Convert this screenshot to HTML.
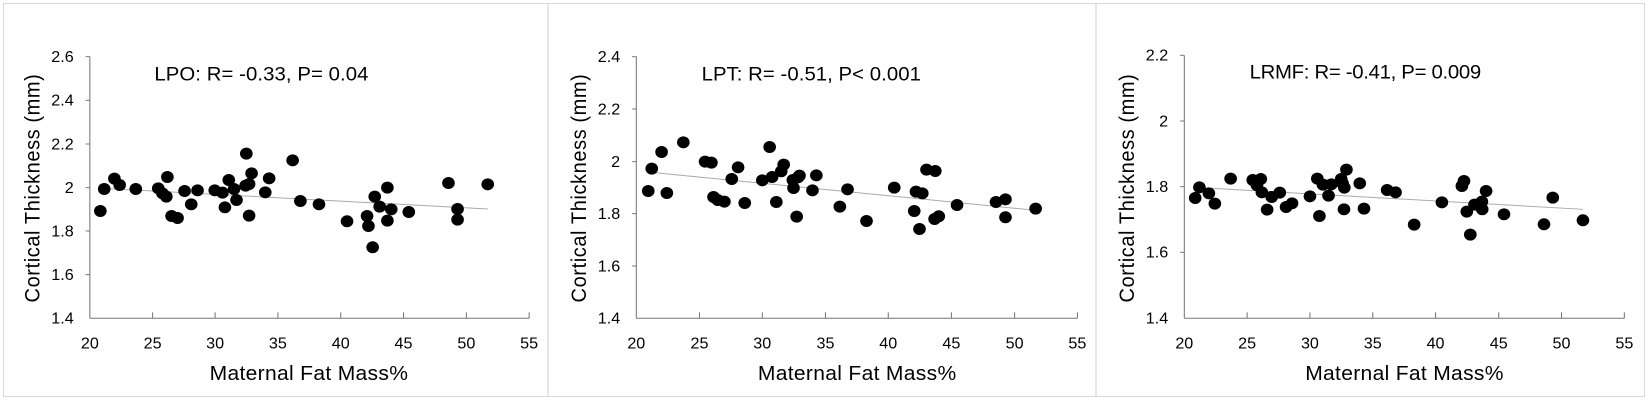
<!DOCTYPE html><html><head><style>body{margin:0;background:#fff}svg{display:block}text{font-family:"Liberation Sans",sans-serif;fill:#000}</style></head><body>
<svg width="1648" height="401" viewBox="0 0 1648 401" xmlns="http://www.w3.org/2000/svg">
<rect x="3.5" y="3.5" width="1641" height="393" fill="none" stroke="#d8d8d8"/>
<line x1="548" y1="3" x2="548" y2="397" stroke="#d0d0d0"/>
<line x1="1096" y1="3" x2="1096" y2="397" stroke="#d0d0d0"/>
<!-- Panel 1 -->
<g transform="scale(0.3509,0.3333)">
<line x1="256" y1="170" x2="256" y2="955" stroke="#777" stroke-width="3"/>
<line x1="256" y1="955" x2="1508" y2="955" stroke="#777" stroke-width="3"/>
<g stroke="#777" stroke-width="3"><line x1="244" y1="170" x2="256" y2="170"/><line x1="244" y1="301" x2="256" y2="301"/><line x1="244" y1="432" x2="256" y2="432"/><line x1="244" y1="563" x2="256" y2="563"/><line x1="244" y1="693" x2="256" y2="693"/><line x1="244" y1="824" x2="256" y2="824"/>
<line x1="435" y1="955" x2="435" y2="937"/><line x1="613" y1="955" x2="613" y2="937"/><line x1="792" y1="955" x2="792" y2="937"/><line x1="971" y1="955" x2="971" y2="937"/><line x1="1150" y1="955" x2="1150" y2="937"/><line x1="1329" y1="955" x2="1329" y2="937"/><line x1="1508" y1="955" x2="1508" y2="937"/></g>
<g font-size="46" text-anchor="end"><text x="210" y="186">2.6</text><text x="210" y="317">2.4</text><text x="210" y="448">2.2</text><text x="210" y="579">2</text><text x="210" y="709">1.8</text><text x="210" y="840">1.6</text><text x="210" y="971">1.4</text></g>
<g font-size="46" text-anchor="middle"><text x="256" y="1045">20</text><text x="435" y="1045">25</text><text x="613" y="1045">30</text><text x="792" y="1045">35</text><text x="971" y="1045">40</text><text x="1150" y="1045">45</text><text x="1329" y="1045">50</text><text x="1508" y="1045">55</text></g>
<text x="880" y="1140" font-size="60" text-anchor="middle" textLength="565">Maternal Fat Mass%</text>
<text transform="translate(112,565) rotate(-90)" font-size="60" text-anchor="middle" textLength="685">Cortical Thickness (mm)</text>
<text x="440" y="242" font-size="58" textLength="610">LPO: R= -0.33, P= 0.04</text>
<line x1="290" y1="565" x2="1390" y2="627" stroke="#aaa" stroke-width="3"/>
<g fill="#000"><circle cx="286" cy="633" r="18"/><circle cx="297" cy="567" r="18"/><circle cx="326" cy="536" r="18"/><circle cx="341" cy="555" r="18"/><circle cx="387" cy="567" r="18"/><circle cx="451" cy="565" r="18"/><circle cx="463" cy="580" r="18"/><circle cx="474" cy="590" r="18"/><circle cx="477" cy="531" r="18"/><circle cx="489" cy="648" r="18"/><circle cx="506" cy="654" r="18"/><circle cx="526" cy="573" r="18"/><circle cx="545" cy="613" r="18"/><circle cx="563" cy="571" r="18"/><circle cx="612" cy="571" r="18"/><circle cx="634" cy="578" r="18"/><circle cx="641" cy="622" r="18"/><circle cx="652" cy="540" r="18"/><circle cx="667" cy="567" r="18"/><circle cx="674" cy="600" r="18"/><circle cx="702" cy="461" r="18"/><circle cx="700" cy="557" r="18"/><circle cx="710" cy="552" r="18"/><circle cx="717" cy="520" r="18"/><circle cx="710" cy="647" r="18"/><circle cx="756" cy="577" r="18"/><circle cx="767" cy="535" r="18"/><circle cx="834" cy="481" r="18"/><circle cx="856" cy="603" r="18"/><circle cx="909" cy="613" r="18"/><circle cx="989" cy="664" r="18"/><circle cx="1046" cy="648" r="18"/><circle cx="1050" cy="678" r="18"/><circle cx="1062" cy="742" r="18"/><circle cx="1068" cy="590" r="18"/><circle cx="1082" cy="620" r="18"/><circle cx="1104" cy="563" r="18"/><circle cx="1104" cy="662" r="18"/><circle cx="1115" cy="628" r="18"/><circle cx="1165" cy="636" r="18"/><circle cx="1278" cy="549" r="18"/><circle cx="1304" cy="627" r="18"/><circle cx="1304" cy="659" r="18"/><circle cx="1390" cy="553" r="18"/></g>
</g>
<!-- Panel 2 -->
<g transform="translate(550,0) scale(0.3509,0.3333)">
<line x1="246" y1="170" x2="246" y2="955" stroke="#777" stroke-width="3"/>
<line x1="246" y1="955" x2="1503" y2="955" stroke="#777" stroke-width="3"/>
<g stroke="#777" stroke-width="3"><line x1="234" y1="170" x2="246" y2="170"/><line x1="234" y1="327" x2="246" y2="327"/><line x1="234" y1="485" x2="246" y2="485"/><line x1="234" y1="641" x2="246" y2="641"/><line x1="234" y1="798" x2="246" y2="798"/>
<line x1="426" y1="955" x2="426" y2="937"/><line x1="605" y1="955" x2="605" y2="937"/><line x1="785" y1="955" x2="785" y2="937"/><line x1="964" y1="955" x2="964" y2="937"/><line x1="1144" y1="955" x2="1144" y2="937"/><line x1="1324" y1="955" x2="1324" y2="937"/><line x1="1503" y1="955" x2="1503" y2="937"/></g>
<g font-size="46" text-anchor="end"><text x="200" y="186">2.4</text><text x="200" y="343">2.2</text><text x="200" y="501">2</text><text x="200" y="657">1.8</text><text x="200" y="814">1.6</text><text x="200" y="971">1.4</text></g>
<g font-size="46" text-anchor="middle"><text x="246" y="1045">20</text><text x="426" y="1045">25</text><text x="605" y="1045">30</text><text x="785" y="1045">35</text><text x="964" y="1045">40</text><text x="1144" y="1045">45</text><text x="1324" y="1045">50</text><text x="1503" y="1045">55</text></g>
<text x="875" y="1140" font-size="60" text-anchor="middle" textLength="565">Maternal Fat Mass%</text>
<text transform="translate(102,565) rotate(-90)" font-size="60" text-anchor="middle" textLength="685">Cortical Thickness (mm)</text>
<text x="432" y="242" font-size="58" textLength="625">LPT: R= -0.51, P&lt; 0.001</text>
<line x1="290" y1="517" x2="1384" y2="631" stroke="#aaa" stroke-width="3"/>
<g fill="#000"><circle cx="280" cy="573" r="18"/><circle cx="290" cy="506" r="18"/><circle cx="318" cy="456" r="18"/><circle cx="333" cy="579" r="18"/><circle cx="380" cy="427" r="18"/><circle cx="442" cy="485" r="18"/><circle cx="460" cy="488" r="18"/><circle cx="466" cy="591" r="18"/><circle cx="478" cy="600" r="18"/><circle cx="497" cy="605" r="18"/><circle cx="518" cy="537" r="18"/><circle cx="536" cy="502" r="18"/><circle cx="555" cy="609" r="18"/><circle cx="605" cy="541" r="18"/><circle cx="626" cy="441" r="18"/><circle cx="633" cy="531" r="18"/><circle cx="645" cy="606" r="18"/><circle cx="659" cy="514" r="18"/><circle cx="666" cy="494" r="18"/><circle cx="692" cy="540" r="18"/><circle cx="694" cy="564" r="18"/><circle cx="703" cy="650" r="18"/><circle cx="707" cy="532" r="18"/><circle cx="711" cy="527" r="18"/><circle cx="748" cy="571" r="18"/><circle cx="759" cy="526" r="18"/><circle cx="826" cy="620" r="18"/><circle cx="848" cy="568" r="18"/><circle cx="902" cy="663" r="18"/><circle cx="981" cy="563" r="18"/><circle cx="1038" cy="633" r="18"/><circle cx="1043" cy="575" r="18"/><circle cx="1053" cy="687" r="18"/><circle cx="1061" cy="580" r="18"/><circle cx="1073" cy="509" r="18"/><circle cx="1096" cy="657" r="18"/><circle cx="1098" cy="513" r="18"/><circle cx="1108" cy="649" r="18"/><circle cx="1160" cy="615" r="18"/><circle cx="1271" cy="606" r="18"/><circle cx="1298" cy="598" r="18"/><circle cx="1298" cy="652" r="18"/><circle cx="1384" cy="626" r="18"/></g>
</g>
<!-- Panel 3 -->
<g transform="translate(1098,0) scale(0.3509,0.3333)">
<line x1="246" y1="166" x2="246" y2="955" stroke="#777" stroke-width="3"/>
<line x1="246" y1="955" x2="1500" y2="955" stroke="#777" stroke-width="3"/>
<g stroke="#777" stroke-width="3"><line x1="234" y1="166" x2="246" y2="166"/><line x1="234" y1="363" x2="246" y2="363"/><line x1="234" y1="560" x2="246" y2="560"/><line x1="234" y1="757" x2="246" y2="757"/>
<line x1="425" y1="955" x2="425" y2="937"/><line x1="604" y1="955" x2="604" y2="937"/><line x1="783" y1="955" x2="783" y2="937"/><line x1="962" y1="955" x2="962" y2="937"/><line x1="1142" y1="955" x2="1142" y2="937"/><line x1="1321" y1="955" x2="1321" y2="937"/><line x1="1500" y1="955" x2="1500" y2="937"/></g>
<g font-size="46" text-anchor="end"><text x="200" y="182">2.2</text><text x="200" y="379">2</text><text x="200" y="576">1.8</text><text x="200" y="773">1.6</text><text x="200" y="971">1.4</text></g>
<g font-size="46" text-anchor="middle"><text x="246" y="1045">20</text><text x="425" y="1045">25</text><text x="604" y="1045">30</text><text x="783" y="1045">35</text><text x="962" y="1045">40</text><text x="1142" y="1045">45</text><text x="1321" y="1045">50</text><text x="1500" y="1045">55</text></g>
<text x="873" y="1140" font-size="60" text-anchor="middle" textLength="565">Maternal Fat Mass%</text>
<text transform="translate(102,565) rotate(-90)" font-size="60" text-anchor="middle" textLength="685">Cortical Thickness (mm)</text>
<text x="432" y="236" font-size="58" textLength="660">LRMF: R= -0.41, P= 0.009</text>
<line x1="290" y1="563" x2="1382" y2="628" stroke="#aaa" stroke-width="3"/>
<g fill="#000"><circle cx="277" cy="594" r="18"/><circle cx="289" cy="562" r="18"/><circle cx="316" cy="580" r="18"/><circle cx="333" cy="611" r="18"/><circle cx="378" cy="536" r="18"/><circle cx="441" cy="540" r="18"/><circle cx="453" cy="556" r="18"/><circle cx="464" cy="537" r="18"/><circle cx="467" cy="577" r="18"/><circle cx="482" cy="629" r="18"/><circle cx="495" cy="591" r="18"/><circle cx="518" cy="578" r="18"/><circle cx="536" cy="621" r="18"/><circle cx="553" cy="610" r="18"/><circle cx="604" cy="589" r="18"/><circle cx="625" cy="536" r="18"/><circle cx="631" cy="648" r="18"/><circle cx="641" cy="554" r="18"/><circle cx="657" cy="587" r="18"/><circle cx="665" cy="553" r="18"/><circle cx="693" cy="537" r="18"/><circle cx="697" cy="550" r="18"/><circle cx="702" cy="563" r="18"/><circle cx="701" cy="628" r="18"/><circle cx="708" cy="509" r="18"/><circle cx="746" cy="550" r="18"/><circle cx="758" cy="626" r="18"/><circle cx="824" cy="570" r="18"/><circle cx="848" cy="577" r="18"/><circle cx="901" cy="674" r="18"/><circle cx="980" cy="607" r="18"/><circle cx="1037" cy="558" r="18"/><circle cx="1043" cy="543" r="18"/><circle cx="1051" cy="635" r="18"/><circle cx="1061" cy="704" r="18"/><circle cx="1073" cy="614" r="18"/><circle cx="1094" cy="605" r="18"/><circle cx="1095" cy="628" r="18"/><circle cx="1106" cy="573" r="18"/><circle cx="1157" cy="643" r="18"/><circle cx="1271" cy="673" r="18"/><circle cx="1296" cy="593" r="18"/><circle cx="1382" cy="661" r="18"/></g>
</g>
</svg>
</body></html>
